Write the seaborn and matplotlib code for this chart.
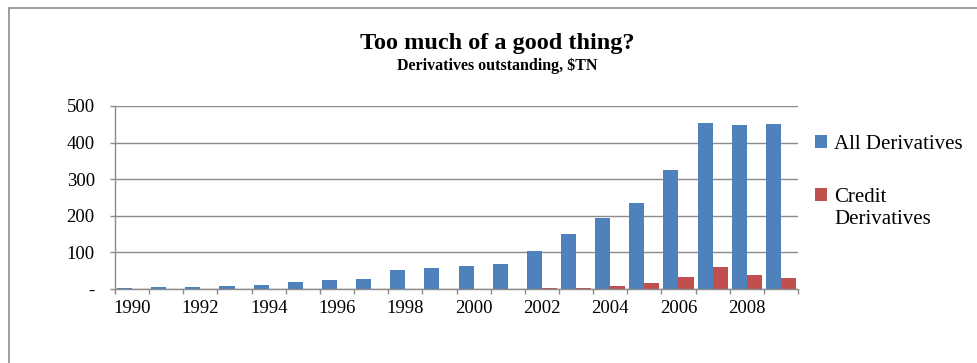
import pandas as pd
import seaborn as sns
import matplotlib.pyplot as plt
from matplotlib.lines import Line2D
from matplotlib.ticker import FuncFormatter, FixedLocator

# Derivatives outstanding, $TN
years = [str(y) for y in range(1990, 2010)]
all_derivs = [2.7, 4.5, 5.5, 8, 11, 18, 25, 28, 51, 57,
              63, 69, 105, 149, 195, 234, 325, 453, 449, 452]
credit_derivs = [0, 0, 0, 0, 0, 0, 0, 0, 0, 0,
                 0, 0, 1.8, 3.5, 8, 16, 34, 61, 37, 30]
series_names = ['All Derivatives', 'Credit']
colors = ['#4F81BD', '#C0504D']

df = pd.DataFrame({
    'Year': years * 2,
    'Value': all_derivs + credit_derivs,
    'Series': [series_names[0]] * len(years) + [series_names[1]] * len(years),
})

sns.set_style('white')
plt.rcParams['font.family'] = ['Liberation Serif', 'DejaVu Serif']
plt.rcParams['text.color'] = 'black'
plt.rcParams['xtick.labelcolor'] = 'black'
plt.rcParams['ytick.labelcolor'] = 'black'

W, H = 978, 363
fig = plt.figure(figsize=(W / 100, H / 100), dpi=100)
ax = fig.add_axes([115 / W, 1 - 289 / H, (798 - 115) / W, (289 - 106) / H])

sns.barplot(data=df, x='Year', y='Value', hue='Series', order=years,
            palette=colors, width=0.88, ax=ax, saturation=1, edgecolor='none')

grid_c = '#8C8C8C'
ax.set_ylim(0, 500)
ax.set_xlim(-0.5, len(years) - 0.5)
ax.set_yticks([0, 100, 200, 300, 400, 500])
ax.yaxis.set_major_formatter(FuncFormatter(lambda v, p: '-' if v == 0 else f'{v:.0f}'))
ax.yaxis.grid(True, color=grid_c, linewidth=1.0)
ax.set_axisbelow(True)
ax.tick_params(axis='y', length=3.6, width=1.0, color=grid_c, pad=11, labelsize=13.5, left=True)

ax.set_xticks(range(0, len(years), 2))
ax.set_xticklabels(years[::2])
ax.xaxis.set_minor_locator(FixedLocator([i - 0.5 for i in range(len(years) + 1)]))
ax.tick_params(axis='x', which='major', length=0, pad=8, labelsize=13.5)
ax.tick_params(axis='x', which='minor', length=3.6, width=1.0, color=grid_c, bottom=True)

for s in ['top', 'right']:
    ax.spines[s].set_visible(False)
for s in ['left', 'bottom']:
    ax.spines[s].set_color(grid_c)
    ax.spines[s].set_linewidth(1.0)
ax.set_xlabel('')
ax.set_ylabel('')

handles, labels = ax.get_legend_handles_labels()
leg = ax.legend(handles, labels, loc='upper left', bbox_to_anchor=(815 / W, 1 - 135 / H),
                bbox_transform=fig.transFigure, frameon=False, fontsize=15,
                handlelength=0.6, handleheight=0.6, handletextpad=0.3,
                labelspacing=1.62, borderaxespad=0, borderpad=0)
# second line of the "Credit Derivatives" legend entry
fig.text(834.5 / W, 1 - 220 / H, 'Derivatives', ha='left', va='center', fontsize=15)

fig.text(497 / W, 1 - 49 / H, 'Too much of a good thing?', ha='center', va='baseline',
         fontsize=17.5, fontweight='bold')
fig.text(497 / W, 1 - 70 / H, 'Derivatives outstanding, $TN', ha='center', va='baseline',
         fontsize=11.5, fontweight='bold')

# outer chart border (left and top visible)
fig.add_artist(Line2D([8.5 / W, 8.5 / W], [0, 1 - 7.5 / H], color='#8C8C8C', linewidth=1.2))
fig.add_artist(Line2D([8.5 / W, 1], [1 - 7.5 / H, 1 - 7.5 / H], color='#8C8C8C', linewidth=1.2))

fig.savefig('out.png', dpi=100)
